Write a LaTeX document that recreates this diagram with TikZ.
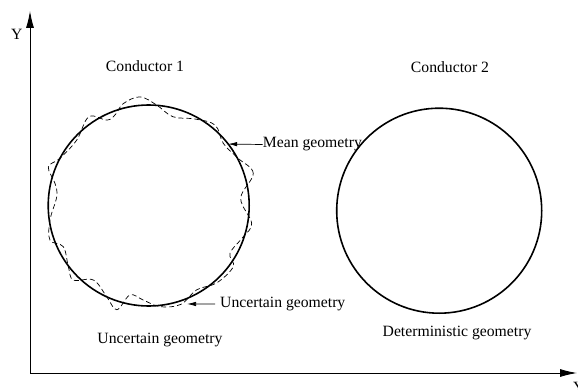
\documentclass[tikz,border=0pt]{standalone}
\usepackage{fontspec}
\setmainfont{Liberation Serif}
\usetikzlibrary{arrows.meta}
\begin{document}
\begin{tikzpicture}[x=1pt,y=1pt,
  lbl/.style={font=\fontsize{15.7}{18}\selectfont, inner sep=0pt},
  axis/.style={line width=0.9pt, -{Latex[length=17pt,width=8pt]}},
  pointer/.style={line width=0.7pt, -{Latex[length=9pt,width=4.5pt]}},
  solidcirc/.style={line width=1.6pt},
  wavy/.style={line width=0.7pt, dash pattern=on 5pt off 3pt}]
\useasboundingbox (0,0) rectangle (578,389);
% axes
\coordinate (O) at (30,16);
\coordinate (ytip) at (30,378);
\coordinate (xtip) at (577,16);
\draw[axis] (O) -- (ytip);
\draw[axis] (O) -- (xtip);
\node[lbl] (ylab) at (16.7,355) {Y};
\node[lbl, anchor=north west] (xlab) at (573,7.3) {Y};
% conductors
\coordinate (c1) at (148.7,183.5);
\coordinate (c2) at (439.2,178.3);
\draw[solidcirc] (c1) circle[radius=100.5];
\draw[solidcirc] (c2) circle[radius=102.5];
\draw[wavy, shift={(c1)}] plot[smooth cycle, tension=0.6] coordinates {
 (4.5:92.3) (17.1:109.4) (28:101) (39.8:97.1) (50.5:104.3) (62:98)
 (74.7:92) (85.5:100.8) (94.6:109) (104:105) (110:97) (116:95)
 (124:107) (137.7:97.3) (152:100.5) (159:107.5) (166.7:96.3) (174.5:92.4)
 (188.4:99.8) (199.3:104.6) (205.8:94.8) (217.3:101) (224.7:106) (233.4:92.8)
 (245.3:100.4) (253:109) (258.2:91.4) (266.7:94.7) (276.4:101.8) (288:104)
 (299.6:97) (311.2:103) (324.1:104.4) (329.5:94.3) (341.7:99.6) (350.2:104.5)};
% labels
\node[lbl] (cond1) at (145,323) {Conductor 1};
\node[lbl] (cond2) at (450,322) {Conductor 2};
\node[lbl] (ugeo) at (160,49) {Uncertain geometry};
\node[lbl] (dgeo) at (457,56) {Deterministic geometry};
\node[lbl, anchor=west] (mean) at (262.7,244.5) {Mean geometry};
\node[lbl, anchor=west] (unc) at (220,85) {Uncertain geometry};
\path (c1) ++(37.7:100.5) coordinate (meanpt);
\path (c1) ++(291.3:105.7) coordinate (uncpt);
\draw[pointer] (mean.west) -- (meanpt);
\draw[pointer] ([xshift=-5pt]unc.west) -- (uncpt);
\end{tikzpicture}
\end{document}
